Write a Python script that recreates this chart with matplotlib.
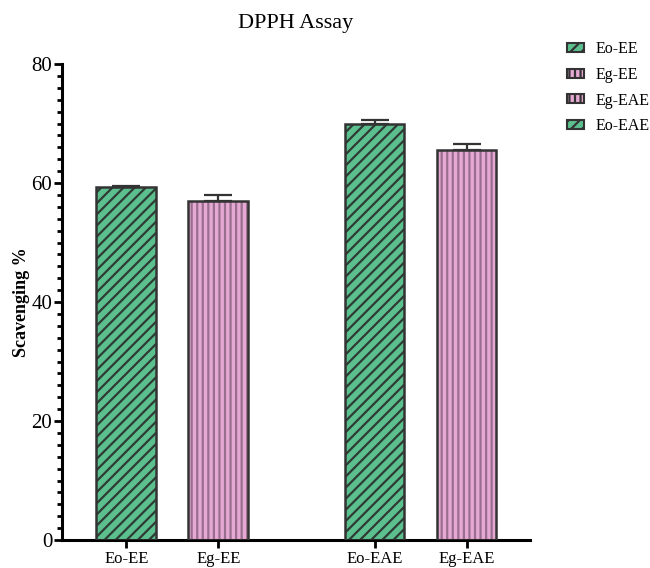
import matplotlib.pyplot as plt
from matplotlib.ticker import MultipleLocator
from matplotlib.patches import Patch

# DPPH radical scavenging results
groups = ["Eo-EE", "Eg-EE", "Eo-EAE", "Eg-EAE"]
scavenging = [59.3, 57.0, 69.9, 65.5]
errors = [0.2, 1.0, 0.7, 1.1]
legend_order = ["Eo-EE", "Eg-EE", "Eg-EAE", "Eo-EAE"]

green = "#5cc08e"
pink = "#e6a9d4"
green_hatch = "#2e3b35"
pink_hatch = "#9a6e8e"
edge = "#333333"

style = {
    "Eo": (green, green_hatch, "///"),
    "Eg": (pink, pink_hatch, "|||"),
}

plt.rcParams["font.family"] = ["Liberation Serif", "DejaVu Serif"]
plt.rcParams["hatch.linewidth"] = 1.6

fig = plt.figure(figsize=(6.5, 5.68), dpi=100)
ax = fig.add_axes([62 / 650, 28 / 568, 468 / 650, 476 / 568])

xpos = [0, 1, 2.7, 3.7]
width = 0.65

for x, g, v, e in zip(xpos, groups, scavenging, errors):
    face, hcol, hatch = style[g[:2]]
    # fill + hatch first, then a clean outline on top
    ax.bar(x, v, width, color=face, edgecolor=hcol, hatch=hatch, linewidth=0, zorder=2)
    ax.bar(x, v, width, fill=False, edgecolor=edge, linewidth=1.8, zorder=3)
    ax.errorbar(x, v, yerr=[[0], [e]], fmt="none", ecolor=edge, elinewidth=1.6,
                capsize=10, capthick=1.6, zorder=4)

ax.set_xlim(-0.70, 4.39)
ax.set_ylim(0, 80)
ax.set_xticks(xpos)
ax.set_xticklabels(groups, fontsize=12)
ax.yaxis.set_major_locator(MultipleLocator(20))
ax.yaxis.set_minor_locator(MultipleLocator(2))
ax.tick_params(axis="y", which="major", length=6, width=2, labelsize=15, pad=1)
ax.tick_params(axis="y", which="minor", length=3.5, width=2)
ax.tick_params(axis="x", which="major", length=6, width=2, pad=2)

for side in ["top", "right"]:
    ax.spines[side].set_visible(False)
for side in ["left", "bottom"]:
    ax.spines[side].set_linewidth(2.2)

ax.set_ylabel("Scavenging %", fontsize=13, fontweight="bold", labelpad=1)
ax.set_title("DPPH Assay", fontsize=16, pad=26)

handles = []
for name in legend_order:
    face, hcol, hatch = style[name[:2]]
    handles.append(Patch(facecolor=face, edgecolor=edge, hatch=hatch, linewidth=1.5,
                         label=name))
fig.legend(handles=handles, loc="upper left", bbox_to_anchor=(553 / 650, 1 - 27 / 568),
           frameon=False, fontsize=11.5, handlelength=1.05, handleheight=0.5,
           labelspacing=0.6, handletextpad=0.7)

fig.savefig("out.png", dpi=100)
